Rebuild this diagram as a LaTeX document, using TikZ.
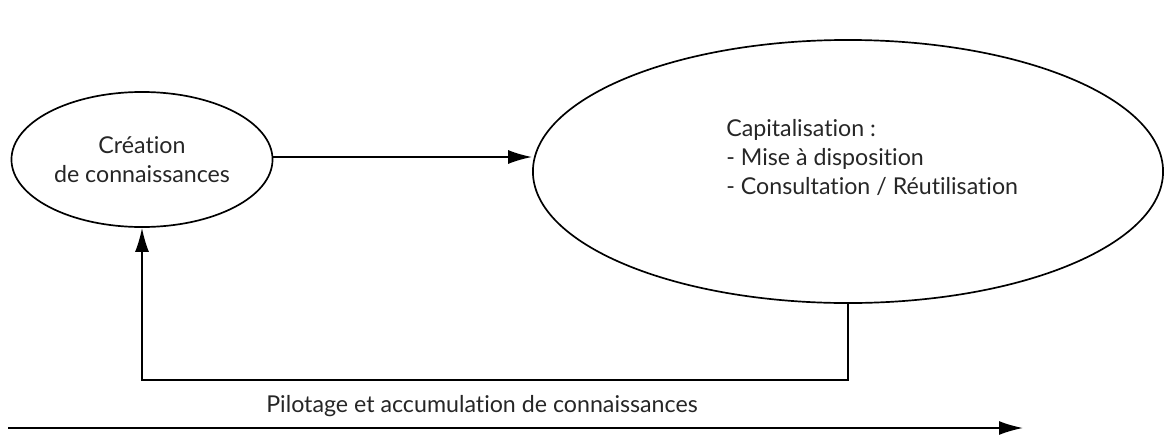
\documentclass[tikz,border=0pt]{standalone}
\usepackage{fontspec}
\setmainfont[Ligatures=NoCommon]{Lato}
\usetikzlibrary{shapes.geometric,arrows.meta}
\begin{document}
\begin{tikzpicture}[x=0.025cm,y=-0.025cm,
    bubble/.style={draw,ellipse,line width=1.2pt,inner sep=0pt},
    arr/.style={line width=1.2pt,-{Latex[length=6mm,width=3.5mm]}},
    lbl/.style={font=\fontsize{16.5}{20.5}\selectfont,text=black!85,inner sep=0pt}]
            \useasboundingbox (0,0) rectangle (1164,435);
            \node[bubble,lbl,align=center,minimum width=6.525cm,minimum height=3.375cm] (crea) at (142,159.5) {Création\\de connaissances};
            \node[bubble,minimum width=15.75cm,minimum height=6.575cm] (capi) at (848,171.5) {};
            \node[lbl,align=left,anchor=north west] (capitxt) at (726,119) {Capitalisation :\\- Mise à disposition\\- Consultation / Réutilisation};
            \coordinate (pstart) at (8,428);
            \coordinate (pend) at (1023,428);
            \node[lbl,anchor=base] (pilot) at (482,412) {Pilotage et accumulation de connaissances};
            \draw[arr] (crea.east |- 0,157) -- (capi.west |- 0,157);
            \draw[arr] (capi.south) -- ++(0,76) -| (crea.south);
            \draw[arr] (pstart) -- (pend);
        \end{tikzpicture}
\end{document}
